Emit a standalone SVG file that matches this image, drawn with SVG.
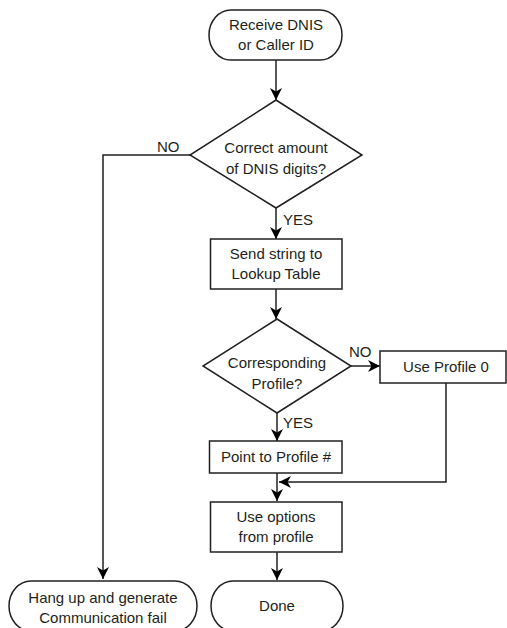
<svg xmlns="http://www.w3.org/2000/svg" width="507" height="628" viewBox="0 0 507 628">
<defs>
<marker id="ah" viewBox="0 0 12 12" refX="12" refY="6" markerWidth="12" markerHeight="12" markerUnits="userSpaceOnUse" orient="auto">
<path d="M0,0 L12,6 L0,12 L3.5,6 Z" fill="#000"/>
</marker>
</defs>
<style>
.s{fill:#fff;stroke:#231f20;stroke-width:1.5}
.c{fill:none;stroke:#231f20;stroke-width:1.5}
text{font-family:"Liberation Sans",Arial,sans-serif;font-size:15px;fill:#231f20;text-anchor:middle}
.l{text-anchor:start}
</style>
<rect width="507" height="628" fill="#fff"/>
<g id="connectors">
<path class="c" d="M276,60 V100" marker-end="url(#ah)"/>
<path class="c" d="M190,155 H103 V579" marker-end="url(#ah)"/>
<path class="c" d="M276,208 V239" marker-end="url(#ah)"/>
<path class="c" d="M276,289 V319" marker-end="url(#ah)"/>
<path class="c" d="M351,366 H380" marker-end="url(#ah)"/>
<path class="c" d="M277,413 V441" marker-end="url(#ah)"/>
<path class="c" d="M446,383 V482 H279" marker-end="url(#ah)"/>
<path class="c" d="M277,473 V501" marker-end="url(#ah)"/>
<path class="c" d="M277,552 V580" marker-end="url(#ah)"/>
<text class="l" x="157" y="152">NO</text>
<text class="l" x="283" y="225">YES</text>
<text class="l" x="349" y="357">NO</text>
<text class="l" x="283" y="428">YES</text>
</g>
<g id="start">
<rect class="s" x="209" y="10" width="133" height="50" rx="22" ry="25"/>
<text x="276" y="30">Receive DNIS</text>
<text x="276" y="50">or Caller ID</text>
</g>
<g id="d1">
<polygon class="s" points="276,100 362,155 276,208 190,155"/>
<text x="276" y="153">Correct amount</text>
<text x="276" y="174">of DNIS digits?</text>
</g>
<g id="send">
<rect class="s" x="210.5" y="239" width="131.5" height="50"/>
<text x="276" y="259">Send string to</text>
<text x="276" y="279">Lookup Table</text>
</g>
<g id="d2">
<polygon class="s" points="277,319 351,366 277,413 203,366"/>
<text x="277" y="368">Corresponding</text>
<text x="277" y="389">Profile?</text>
</g>
<g id="profile0">
<rect class="s" x="380" y="351" width="126" height="32"/>
<text x="446" y="372">Use Profile 0</text>
</g>
<g id="point">
<rect class="s" x="209.5" y="441" width="132.5" height="32"/>
<text x="276" y="462">Point to Profile #</text>
</g>
<g id="useopt">
<rect class="s" x="210.5" y="502" width="131.5" height="50"/>
<text x="276" y="522">Use options</text>
<text x="276" y="542">from profile</text>
</g>
<g id="hangup">
<rect class="s" x="9" y="581" width="188" height="50" rx="22" ry="25"/>
<text x="103" y="603">Hang up and generate</text>
<text x="103" y="623">Communication fail</text>
</g>
<g id="done">
<rect class="s" x="211" y="581" width="132" height="50" rx="22" ry="25"/>
<text x="277" y="611">Done</text>
</g>
</svg>
